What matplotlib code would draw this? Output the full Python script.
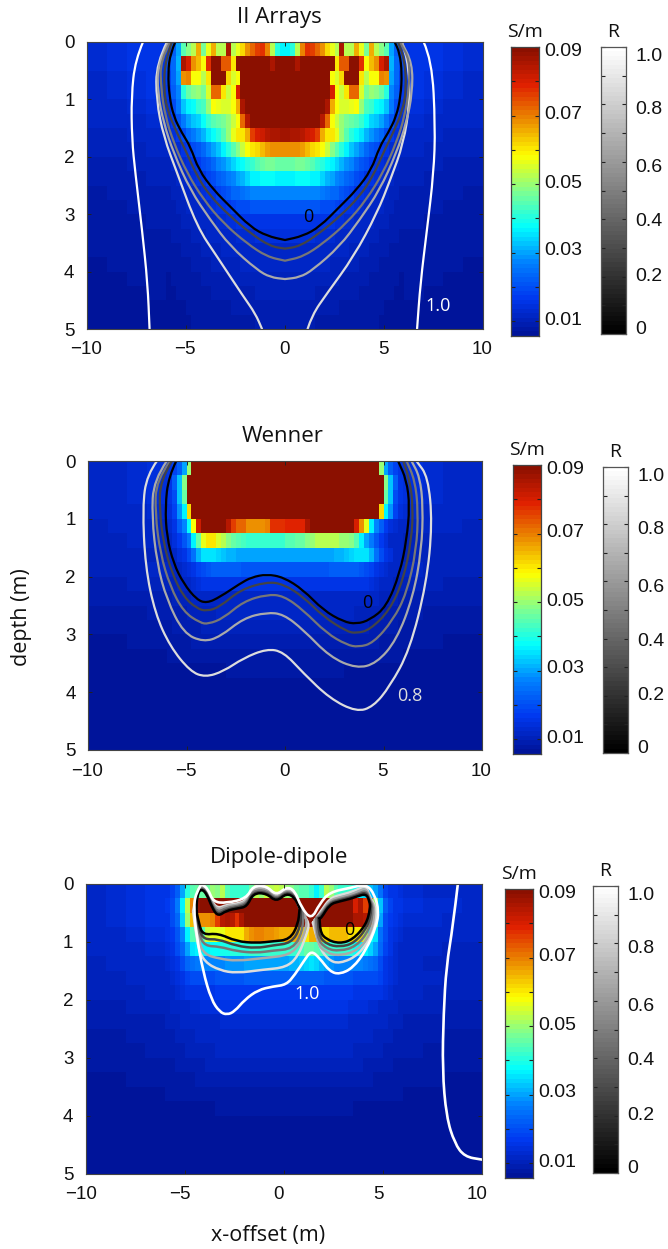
import numpy as np
import matplotlib
matplotlib.use("Agg")
import matplotlib.pyplot as plt
from matplotlib.colors import LinearSegmentedColormap
from matplotlib.patches import PathPatch
from matplotlib.path import Path
from matplotlib.transforms import ScaledTranslation

W, H = 668, 1249

### cell borders of the conductivity grids (m)
x_edges = [-10, -9, -8, -7] + list(np.arange(-6, 6.01, 0.25)) + [7, 8, 9, 10]
y_edges = list(np.arange(0, 5.01, 0.25))

### conductivity in mS/m, rows from top to bottom, left half of the grid
### (28 values: row is mirrored around x=0) or whole row (56 values)
arrays_rows = [
    [13,14,15,16,17,22,30,44,48,52,66,47,57,66,53,52,86,52,56,62,68,72,76,78,70,52,40,37],
    [13,14,15,16,19,24,32,85,80,68,64,58,78,90,90,74,74,60,90,90,90,90,90,90,90,85,90,90],
    [12,13,14,16,18,23,30,68,70,58,58,52,60,90,90,90,62,55,58,90,90,90,90,90,90,90,90,90],
    [12,13,14,15,17,22,28,40,46,49,50,47,55,72,72,60,54,58,80,90,90,90,90,90,90,90,90,90],
    [11,12,13,14,16,20,26,33,36,38,42,43,50,58,57,55,55,58,66,85,90,90,90,90,90,90,90,90],
    [11,11,12,13,14,17,21,26,30,33,34,38,42,44,46,47,50,54,58,72,84,90,90,90,90,90,90,90],
    [10,10,11,11,12,14,17,19,23,26,29,32,35,38,40,44,50,56,60,60,66,76,80,82,84,85,86,87],
    [10,10,10,11,11,12,13,15,17,19,21,24,27,30,33,36,40,44,48,54,58,60,62,64,67,68,68,68],
    [9,9,10,10,10,11,12,13,14,15,17,19,21,24,27,29,32,34,36,38,40,42,44,46,47,47,46,46],
    [9,9,9,10,10,10,11,12,13,14,15,16,18,20,22,24,26,28,30,32,34,36,37,38,38,38,37,37],
    [8,9,9,9,9,10,10,11,12,12,13,14,15,16,18,19,21,23,24,25,26,27,28,28,28,28,28,28],
    [8,8,9,9,9,9,10,10,11,11,12,12,13,14,15,16,17,18,19,20,20,21,21,21,21,21,21,21],
    [8,8,8,9,9,9,9,10,10,10,11,11,12,12,13,13,14,14,15,15,16,16,16,16,16,16,16,16],
    [8,8,8,8,8,9,9,9,9,10,10,10,11,11,11,12,12,12,13,13,13,13,14,14,14,14,14,14],
    [8,8,8,8,8,8,8,9,9,9,9,10,10,10,10,11,11,11,11,12,12,12,12,12,12,12,12,12],
    [7,8,8,8,8,8,8,8,8,9,9,9,9,10,10,10,10,10,10,11,11,11,11,11,11,11,11,11],
    [7,7,8,8,7,8,8,8,8,8,8,9,9,9,9,9,9,10,10,10,10,10,10,10,10,10,10,10],
    [7,7,7,8,7,7,8,8,8,8,8,8,8,9,9,9,9,9,9,9,9,9,10,10,10,10,10,10],
    [7,7,7,7,7,7,7,7,8,8,8,8,8,8,8,8,8,9,9,9,9,9,9,9,9,9,9,9],
    [7,7,7,7,7,7,7,7,7,8,8,8,8,8,8,8,8,8,8,8,8,8,9,9,9,9,9,9],
]

wenner_rows = [
    [11,12,13,14,15,18,22,30,50,90,90,90,90,90,90,90,90,90,90,90,90,90,90,90,90,90,90,90],
    [11,12,13,14,15,22,33,48,90,90,90,90,90,90,90,90,90,90,90,90,90,90,90,90,90,90,90,90],
    [11,12,13,14,15,19,33,46,90,90,90,90,90,90,90,90,90,90,90,90,90,90,90,90,90,90,90,90],
    [11,11,12,13,14,18,29,37,62,90,90,90,90,90,90,90,90,90,90,90,90,90,90,90,90,90,90,90],
    [10,11,12,12,13,16,22,28,38,58,82,90,90,90,90,90,84,76,72,72,68,68,68,68,70,78,78,78,
     79,79,79,79,85,90,90,90,90,90,90,90,90,90,80,68,56,37,28,22,17,14,13,12,12,11,11,10],
    [10,10,11,11,12,14,17,21,26,36,46,56,60,60,55,52,48,46,44,43,42,42,42,42,42,42,42,42,
     44,44,46,46,48,50,52,52,52,52,52,50,50,48,44,36,30,26,21,17,14,12,11,11,10,10,10,10],
    [10,10,10,10,11,12,14,16,19,25,31,35,35,35,34,33,32,31,30,30,30,30,30,30,30,30,30,30],
    [10,10,10,11,11,11,12,13,14,16,18,20,21,22,22,22,22,22,22,21,21,21,21,21,21,21,21,21],
    [9,9,10,10,10,10,11,11,12,13,14,15,15,15,16,16,16,16,16,16,16,16,16,16,16,16,16,16],
    [9,9,9,9,9,10,10,10,10,11,11,12,12,12,12,12,12,12,12,12,12,12,12,12,12,12,12,12],
    [8,8,8,9,9,9,9,9,10,10,10,10,10,10,11,11,11,11,11,11,11,11,11,11,11,11,11,11],
    [8,8,8,8,8,9,9,9,9,9,9,10,10,10,10,10,10,10,10,10,10,10,10,10,10,10,10,10],
    [7,7,8,8,8,8,8,8,8,9,9,9,9,9,9,9,9,9,9,9,9,9,9,9,9,9,9,9],
    [7,7,7,7,8,8,8,8,8,8,8,8,8,8,8,8,8,8,8,8,8,8,8,8,8,8,8,8],
    [7,7,7,7,7,7,7,7,7,7,7,7,7,7,7,7,8,8,8,8,8,8,8,8,8,8,8,8],
    [7,7,7,7,7,7,7,7,7,7,7,7,7,7,7,7,7,7,7,7,7,7,7,7,7,7,7,7],
    [7,7,7,7,7,7,7,7,7,7,7,7,7,7,7,7,7,7,7,7,7,7,7,7,7,7,7,7],
    [7,7,7,7,7,7,7,7,7,7,7,7,7,7,7,7,7,7,7,7,7,7,7,7,7,7,7,7],
    [7,7,7,7,7,7,7,7,7,7,7,7,7,7,7,7,7,7,7,7,7,7,7,7,7,7,7,7],
    [7,7,7,7,7,7,7,7,7,7,7,7,7,7,7,7,7,7,7,7,7,7,7,7,7,7,7,7],
]

dipole_rows = [
    [12,13,14,15,16,18,22,30,40,44,46,46,46,50,48,52,44,42,42,42,42,46,52,50,54,52,54,52,
     50,48,46,44,44,42,36,42,52,50,44,42,42,42,38,36,34,33,30,25,18,16,15,14,13,12,12,11],
    [12,13,14,15,17,20,26,36,52,70,88,90,90,90,90,90,90,90,90,90,90,90,90,90,90,90,90,90,
     90,90,90,90,90,90,90,90,90,90,90,90,90,90,80,86,76,78,50,33,22,18,16,15,14,13,13,12],
    [12,13,14,15,16,19,24,34,50,64,68,68,68,70,76,84,86,84,78,85,90,90,90,90,90,90,90,90,
     90,90,90,90,90,90,90,90,90,90,90,90,90,90,86,86,84,70,46,30,20,17,15,14,13,13,12,12],
    [11,12,13,14,15,17,21,27,37,45,45,45,54,56,57,56,60,60,60,60,66,68,70,70,68,68,67,66,
     66,66,66,62,60,66,66,62,62,64,64,64,64,62,60,60,52,38,35,25,19,16,14,13,12,12,11,11],
    [11,11,12,13,14,16,19,23,30,35,36,37,37,38,38,39,39,40,40,41,41,42,42,42,42,42,42,42,
     42,42,42,43,46,46,44,43,42,42,42,42,42,40,38,37,36,34,30,24,18,15,13,12,11,11,10,10],
    [10,11,11,12,13,14,16,19,23,25,26,27,27,28,28,28,29,29,29,29,30,30,30,30,30,30,30,30,
     30,31,32,33,34,35,34,32,30,29,28,28,28,28,27,27,26,25,23,19,16,14,13,12,11,10,10,10],
    [10,10,11,11,12,13,14,16,18,19,20,20,20,20,21,21,21,21,21,21,22,22,22,22,22,22,22,22],
    [10,10,10,11,11,12,13,14,15,15,16,16,16,16,17,17,17,17,17,17,17,17,17,17,17,17,17,17],
    [9,9,10,10,10,11,11,12,12,13,13,14,14,14,14,15,15,15,15,15,15,15,15,15,15,15,15,15],
    [9,9,9,9,10,10,10,11,11,11,12,12,12,12,12,13,13,13,13,13,13,13,13,13,13,13,13,13],
    [8,8,9,9,9,9,10,10,10,10,11,11,11,11,12,12,12,12,12,12,12,12,12,12,12,12,12,12],
    [8,8,8,9,9,9,9,9,10,10,10,10,10,10,11,11,11,11,11,11,11,11,11,11,11,11,11,11],
    [8,8,8,8,8,8,9,9,9,9,9,9,10,10,10,10,10,10,10,10,10,10,10,10,10,10,10,10],
    [7,7,8,8,8,8,8,8,8,8,9,9,9,9,9,9,9,9,9,9,9,9,9,9,9,9,9,9],
    [7,7,7,7,8,8,8,8,8,8,8,8,8,8,8,8,8,8,8,8,8,8,8,8,8,8,8,8],
    [7,7,7,7,7,7,7,7,7,7,7,7,7,7,8,8,8,8,8,8,8,8,8,8,8,8,8,8],
    [7,7,7,7,7,7,7,7,7,7,7,7,7,7,7,7,7,7,7,7,7,7,7,7,7,7,7,7],
    [7,7,7,7,7,7,7,7,7,7,7,7,7,7,7,7,7,7,7,7,7,7,7,7,7,7,7,7],
    [7,7,7,7,7,7,7,7,7,7,7,7,7,7,7,7,7,7,7,7,7,7,7,7,7,7,7,7],
    [7,7,7,7,7,7,7,7,7,7,7,7,7,7,7,7,7,7,7,7,7,7,7,7,7,7,7,7],
]

### R contours, panel 1: left halves for the closed ones
arrays_0_x = [-5.54,-5.79,-5.91,-5.84,-5.62,-5.2,-4.78,-4.36,-3.6,-2.76,-1.75,-.91,0]
arrays_0_y = [0,.19,.54,.95,1.3,1.59,1.82,2.23,2.58,2.87,3.22,3.38,3.45]
arrays_1_x = [-5.71,-6.04,-6.13,-5.96,-5.45,-5.03,-4.44,-3.77,-2.76,-1.75,-.74,0]
arrays_1_y = [0,.31,.77,1.18,1.59,1.88,2.34,2.69,3.04,3.33,3.56,3.6]
arrays_2_x = [-5.79,-6.3,-6.26,-6.04,-5.62,-4.95,-4.11,-3.1,-1.92,-.91,0]
arrays_2_y = [0,.31,.83,1.3,1.76,2.28,2.75,3.16,3.51,3.74,3.81]
arrays_3_x = [-5.88,-6.43,-6.43,-6.13,-5.62,-4.78,-3.77,-2.76,-1.41,-.74,0]
arrays_3_y = [0,.37,.89,1.41,1.94,2.58,3.1,3.56,3.97,4.1,4.13]
arrays_4l_x = [-5.96,-6.5,-6.5,-6.13,-5.45,-4.44,-3.43,-2.09,-1.5,-1.16]
arrays_4l_y = [0,.37,1.01,1.65,2.28,3.22,3.74,4.44,4.73,5]
arrays_4r_x = [1.14,1.36,2.12,3.47,4.65,5.32,5.99,6.3,6.25,5.91]
arrays_4r_y = [5,4.76,4.38,3.74,2.98,2.4,1.76,1.06,.42,0]
arrays_5l_x = [-7.17,-7.56,-7.76,-7.73,-7.56,-7.22,-6.94,-6.84]
arrays_5l_y = [0,.31,.95,1.7,2.28,3.27,4.2,5]
arrays_5r_x = [7.0,7.42,7.59,7.51,7.17,6.84,6.67]
arrays_5r_y = [0,.31,1.47,2.28,3.27,4.2,5]

### R contours, panel 2
wenner_0_x = [-5.52,-5.91,-6.08,-6.0,-5.66,-5.15,-4.48,-3.97,-3.29,-2.28,-1.69,-.93,-.08,.93,1.94,2.96,3.63,4.31,5.15,5.83,6.17,6.33,6.17,5.74]
wenner_0_y = [0,.27,.79,1.31,1.77,2.12,2.4,2.46,2.35,2.12,2.01,1.96,2.01,2.23,2.58,2.78,2.82,2.75,2.52,1.94,1.37,.79,.33,0]
wenner_1_x = [-5.74,-6.33,-6.37,-6.17,-5.74,-5.15,-4.48,-3.97,-3.29,-2.28,-.93,-.08,.93,1.94,3.13,3.63,4.31,5.32,6.0,6.42,6.5,6.33,6.0]
wenner_1_y = [0,.33,.85,1.42,1.94,2.35,2.55,2.6,2.52,2.23,2.09,2.13,2.35,2.69,2.95,2.98,2.92,2.58,2.06,1.37,.79,.33,0]
wenner_2_x = [-5.83,-6.54,-6.59,-6.33,-5.83,-5.15,-4.31,-3.89,-3.13,-2.11,-.93,-.08,.93,2.11,3.13,3.72,4.48,5.49,6.17,6.67,6.76,6.59,6.17]
wenner_2_y = [0,.33,.91,1.6,2.17,2.61,2.8,2.82,2.72,2.43,2.31,2.33,2.58,2.98,3.18,3.22,3.15,2.75,2.29,1.54,.85,.33,0]
wenner_3_x = [-6,-6.67,-6.76,-6.5,-6,-5.15,-4.14,-3.29,-2.11,-.93,-.08,.93,2.28,3.63,4.65,5.66,6.5,6.93,7.01,6.84,6.42]
wenner_3_y = [0,.33,.96,1.77,2.4,2.98,3.13,3.04,2.72,2.62,2.65,2.92,3.39,3.59,3.5,3.1,2.35,1.54,.79,.27,0]
wenner_4_x = [-6.5,-7.01,-7.23,-7.09,-6.59,-5.83,-4.81,-4.05,-3.13,-2.11,-.93,-.08,.93,2.28,3.63,4.48,5.32,6.33,7.18,7.48,7.26,6.67]
wenner_4_y = [0,.24,.79,1.83,2.64,3.21,3.64,3.74,3.64,3.41,3.25,3.3,3.67,4.11,4.34,4.25,3.9,3.27,2.12,1.08,.27,0]

### R contours, panel 3: lower edges of the two lobes
dipole_left_x = [
    [-4.42,-4.29,-4.09,-3.33,-2.41,-1.40,-.56,.29,.71,.79],
    [-4.46,-4.29,-4.04,-3.33,-2.41,-1.40,-.56,.37,.82,.87],
    [-4.51,-4.29,-4.0,-3.25,-2.41,-1.40,-.56,.45,.93,.99],
    [-4.54,-4.34,-4.0,-3.25,-2.41,-1.06,.29,.82,1.09,1.16],
    [-4.59,-4.39,-4.0,-3.25,-2.41,-1.06,.12,.71,1.13,1.30],
]
dipole_left_y = [
    [.47,.70,.88,.85,.99,1.02,.99,.96,.70,.42],
    [.47,.79,.96,.95,1.07,1.11,1.06,1.02,.76,.44],
    [.47,.88,1.07,1.08,1.16,1.19,1.15,1.12,.83,.47],
    [.47,.99,1.22,1.29,1.33,1.28,1.23,1.02,.79,.59],
    [.47,1.08,1.35,1.49,1.54,1.48,1.44,1.25,.88,.67],
]
dipole_right_x = [
    [1.8,1.8,2.14,2.81,3.48,4.15,4.36],
    [1.72,1.72,2.14,2.81,3.57,4.24,4.44],
    [1.63,1.63,2.14,2.81,3.65,4.32,4.52],
    [1.55,1.63,2.14,2.81,3.73,4.41,4.61],
    [1.46,1.72,2.22,2.81,3.82,4.52,4.69],
]
dipole_right_y = [
    [.59,.82,.96,1.03,.96,.70,.42],
    [.59,.88,1.04,1.09,1.02,.73,.42],
    [.59,.93,1.12,1.16,1.08,.79,.42],
    [.62,1.02,1.19,1.24,1.15,.85,.42],
    [.67,1.05,1.31,1.38,1.22,.82,.42],
]
# upper edges, same x for all levels
dipole_top_left_x = [-4.39,-4.17,-3.89,-3.62,-3.33,-2.91,-2.32,-1.87,-1.56,-.89,-.39,.12,.54,.79]
dipole_top_left_y = [
    [.18,.08,.18,.42,.56,.46,.42,.39,.16,.16,.31,.16,.23,.42],
    [.17,.07,.16,.40,.53,.44,.40,.36,.14,.14,.29,.14,.21,.42],
    [.16,.05,.14,.37,.49,.41,.38,.33,.11,.11,.27,.12,.19,.42],
    [.14,.03,.12,.34,.45,.38,.36,.30,.08,.08,.24,.10,.16,.44],
    [.13,.02,.10,.32,.42,.36,.34,.27,.06,.05,.22,.08,.14,.46],
]
dipole_top_right_x = [1.88,2.31,2.81,3.31,3.73,4.15,4.32]
dipole_top_right_y = [
    [.59,.35,.30,.26,.21,.17,.30],
    [.56,.33,.28,.24,.19,.14,.28],
    [.53,.31,.26,.22,.17,.11,.26],
    [.50,.28,.23,.19,.13,.07,.24],
    [.46,.25,.19,.15,.09,.03,.22],
]
dipole_5_x = [-4.17,-4.46,-4.56,-4.42,-4.09,-3.67,-3.25,-2.88,-2.49,-1.99,-1.31,-.56,.12,.54,1.04,1.38,1.8,2.31,2.81,3.48,4.15,4.66,4.79,4.58,4.15,
              3.31,2.31,1.8,1.38,.87,.54,.12,-.39,-.89,-1.56,-1.9,-2.91,-3.58,-3.84,-4.17]
dipole_5_y = [0,.16,.42,.88,1.51,2.0,2.21,2.26,2.2,2.0,1.83,1.77,1.74,1.57,1.31,1.15,1.28,1.51,1.56,1.45,1.14,.73,.47,.18,0,
              .07,.14,.34,.62,.40,.11,.05,.20,.03,.03,.25,.33,.31,.08,0]
dipole_5r_x = [8.78,8.53,8.2,8.06,8.0,8.2,8.62,9.12,10]
dipole_5r_y = [0,.73,1.42,2.23,3.21,4.02,4.48,4.71,4.76]

level_colors = ["#000000", "#444444", "#777777", "#aaaaaa", "#dddddd", "#ffffff"]

titles = ["II Arrays", "Wenner", "Dipole-dipole"]
sigma_ticks = [0.01, 0.02, 0.03, 0.04, 0.05, 0.06, 0.07, 0.08, 0.09]
sigma_labels = ["0.09", "0.07", "0.05", "0.03", "0.01"]
sigma_label_pos = [0.0887, 0.0702, 0.0502, 0.0307, 0.0103]
r_labels = ["1.0", "0.8", "0.6", "0.4", "0.2", "0"]
r_label_pos = [0.967, 0.781, 0.58, 0.391, 0.2, 0.014]

# layout in pixels: left, top, right, bottom
main_boxes = [(87, 42, 483, 329), (88, 461, 482, 750), (86, 884, 482, 1173.5)]
sigma_boxes = [(511, 47, 539, 336), (513, 465, 541, 754), (505, 889, 533, 1178)]
r_boxes = [(601, 47, 626, 334), (603, 467, 628, 753), (593, 886, 618, 1173)]
title_pos = [(279, 18), (283, 437), (279, 858)]
label_shift = [-1, -1, -5]

TICK_FONT = "Liberation Sans"
TEXT_FONT = "Open Sans"

jet_like = LinearSegmentedColormap.from_list("jet_like", [
    (0.0, "#00149a"), (0.125, "#0038f0"), (0.25, "#0080ff"), (0.375, "#00ffff"),
    (0.5, "#80ff90"), (0.625, "#ffff00"), (0.75, "#ec8c00"), (0.875, "#e02000"),
    (1.0, "#8b1000")], N=64)
SIGMA_MIN, SIGMA_MAX = 0.0057, 0.09


def box_axes(fig, box):
    left, top, right, bottom = box
    return fig.add_axes([left/W, 1-bottom/H, (right-left)/W, (bottom-top)/H])


def full_grid(rows):
    out = []
    for i, row in enumerate(rows):
        if len(row) == 28:
            row = row + row[::-1]
        if len(row) != 56:
            raise ValueError(f"row {i} has {len(row)} values")
        out.append(row)
    return np.array(out, dtype=float)/1000


def closed_sym(x, y):
    return x + [-v for v in x[::-1]], y + y[::-1]


def draw_line(ax, x, y, level, lw=1.6):
    """ the read points are the control points of a rounded path, as the contours are smooth """
    pts = list(zip(x, y))
    verts = [pts[0]]
    codes = [Path.MOVETO]
    for p, q in zip(pts[1:-1], pts[2:]):
        verts += [p, ((p[0]+q[0])/2, (p[1]+q[1])/2)]
        codes += [Path.CURVE3, Path.CURVE3]
    verts.append(pts[-1])
    codes.append(Path.LINETO)
    ax.add_patch(PathPatch(Path(verts, codes), fill=False, edgecolor=level_colors[level], lw=lw,
                           joinstyle="round", capstyle="round"))


def draw_panel(fig, i, rows):
    ax = box_axes(fig, main_boxes[i])
    ax.pcolormesh(x_edges, y_edges, full_grid(rows), cmap=jet_like, vmin=SIGMA_MIN, vmax=SIGMA_MAX)
    ax.set_xlim(-10, 10)
    ax.set_ylim(5, 0)
    ax.set_xticks([-10, -5, 0, 5, 10])
    ax.set_yticks([0, 1, 2, 3, 4, 5])
    ax.tick_params(direction="in", top=True, right=True, length=3, width=0.7, color="#222222",
                   labelsize=13.5, labelcolor="#111111")
    ax.tick_params(axis="x", pad=9)
    ax.tick_params(axis="y", pad=9)
    shift = ScaledTranslation(label_shift[i]/100, 0, fig.dpi_scale_trans)
    for lab in ax.get_xticklabels():
        lab.set_transform(lab.get_transform() + shift)
    for lab in ax.get_xticklabels() + ax.get_yticklabels():
        lab.set_family(TICK_FONT)
    for sp in ax.spines.values():
        sp.set_linewidth(0.8)
        sp.set_color("#444444")
    fig.text(title_pos[i][0]/W, 1-title_pos[i][1]/H, titles[i], family=TEXT_FONT, fontsize=16,
             ha="center", va="center", color="#111111")
    return ax


def draw_colorbars(fig, i):
    ax = box_axes(fig, sigma_boxes[i])
    ax.imshow(np.linspace(SIGMA_MAX, SIGMA_MIN, 64).reshape(-1, 1), cmap=jet_like, vmin=SIGMA_MIN, vmax=SIGMA_MAX,
              aspect="auto", extent=[0, 1, SIGMA_MIN, SIGMA_MAX])
    ax.set_xticks([])
    ax.set_yticks(sigma_ticks)
    ax.tick_params(direction="in", left=True, right=True, labelleft=False, length=3, width=0.8, color="#222222")
    for v, s in zip(sigma_label_pos, sigma_labels):
        ax.annotate(s, xy=(1, v), xycoords=("axes fraction", "data"), xytext=(3.5, 0), textcoords="offset points",
                    family=TICK_FONT, fontsize=14, va="center", ha="left", color="#111111")
    left, top, right, bottom = sigma_boxes[i]
    fig.text((left+right)/2/W, 1-(top-15)/H, "S/m", family=TEXT_FONT, fontsize=14, ha="center", va="center", color="#111111")
    for sp in ax.spines.values():
        sp.set_linewidth(0.9)
        sp.set_color("#444444")

    ax = box_axes(fig, r_boxes[i])
    ax.imshow(np.linspace(1, 0, 64).reshape(-1, 1), cmap="gray", vmin=0, vmax=1, aspect="auto", extent=[0, 1, 0, 1])
    ax.set_xticks([])
    ax.set_yticks(np.arange(0, 1.01, 0.1))
    ax.tick_params(direction="in", left=True, right=True, labelleft=False, length=3, width=0.8, color="#222222")
    for v, s in zip(r_label_pos, r_labels):
        ax.annotate(s, xy=(1, v), xycoords=("axes fraction", "data"), xytext=(6.5, 0), textcoords="offset points",
                    family=TICK_FONT, fontsize=14, va="center", ha="left", color="#111111")
    left, top, right, bottom = r_boxes[i]
    fig.text((left+right)/2/W, 1-(top-15)/H, "R", family=TEXT_FONT, fontsize=14, ha="center", va="center", color="#111111")
    for sp in ax.spines.values():
        sp.set_linewidth(0.9)
        sp.set_color("#555555")


fig = plt.figure(figsize=(W/100, H/100), dpi=100)

### panel 1
ax = draw_panel(fig, 0, arrays_rows)
draw_line(ax, arrays_5l_x, arrays_5l_y, 5)
draw_line(ax, arrays_5r_x, arrays_5r_y, 5)
draw_line(ax, arrays_4l_x, arrays_4l_y, 4)
draw_line(ax, arrays_4r_x, arrays_4r_y, 4)
draw_line(ax, *closed_sym(arrays_3_x, arrays_3_y), 3)
draw_line(ax, *closed_sym(arrays_2_x, arrays_2_y), 2)
draw_line(ax, *closed_sym(arrays_1_x, arrays_1_y), 1)
draw_line(ax, *closed_sym(arrays_0_x, arrays_0_y), 0)
ax.text(1.16, 3.05, "0", family=TEXT_FONT, fontsize=13, color="#000000", ha="center", va="center")
ax.text(7.74, 4.6, "1.0", family=TEXT_FONT, fontsize=13, color="#ffffff", ha="center", va="center")

### panel 2
ax = draw_panel(fig, 1, wenner_rows)
draw_line(ax, wenner_4_x, wenner_4_y, 4)
draw_line(ax, wenner_3_x, wenner_3_y, 3)
draw_line(ax, wenner_2_x, wenner_2_y, 2)
draw_line(ax, wenner_1_x, wenner_1_y, 1)
draw_line(ax, wenner_0_x, wenner_0_y, 0)
ax.text(4.19, 2.46, "0", family=TEXT_FONT, fontsize=13, color="#000000", ha="center", va="center")
ax.text(6.33, 4.06, "0.8", family=TEXT_FONT, fontsize=13, color="#dddddd", ha="center", va="center")

### panel 3
ax = draw_panel(fig, 2, dipole_rows)
draw_line(ax, dipole_5r_x, dipole_5r_y, 5, lw=1.9)
for level in range(4, -1, -1):
    lobe_x = dipole_left_x[level] + dipole_top_left_x[::-1] + dipole_left_x[level][:1]
    lobe_y = dipole_left_y[level] + dipole_top_left_y[level][::-1] + dipole_left_y[level][:1]
    draw_line(ax, lobe_x, lobe_y, level, lw=1.8)
    lobe_x = dipole_right_x[level] + dipole_top_right_x[::-1] + dipole_right_x[level][:1]
    lobe_y = dipole_right_y[level] + dipole_top_right_y[level][::-1] + dipole_right_y[level][:1]
    draw_line(ax, lobe_x, lobe_y, level, lw=1.8)
draw_line(ax, dipole_5_x, dipole_5_y, 5, lw=1.9)
ax.text(3.28, 0.79, "0", family=TEXT_FONT, fontsize=13, color="#000000", ha="center", va="center")
ax.text(1.18, 1.9, "1.0", family=TEXT_FONT, fontsize=13, color="#ffffff", ha="center", va="center")

for i in range(3):
    draw_colorbars(fig, i)

fig.text(22/W, 1-617/H, "depth (m)", family=TEXT_FONT, fontsize=15.5, rotation=90, ha="center", va="center", color="#111111")
fig.text(268/W, 1-1236/H, "x-offset (m)", family=TEXT_FONT, fontsize=15.5, ha="center", va="center", color="#111111")

fig.savefig("out.png", dpi=100)
